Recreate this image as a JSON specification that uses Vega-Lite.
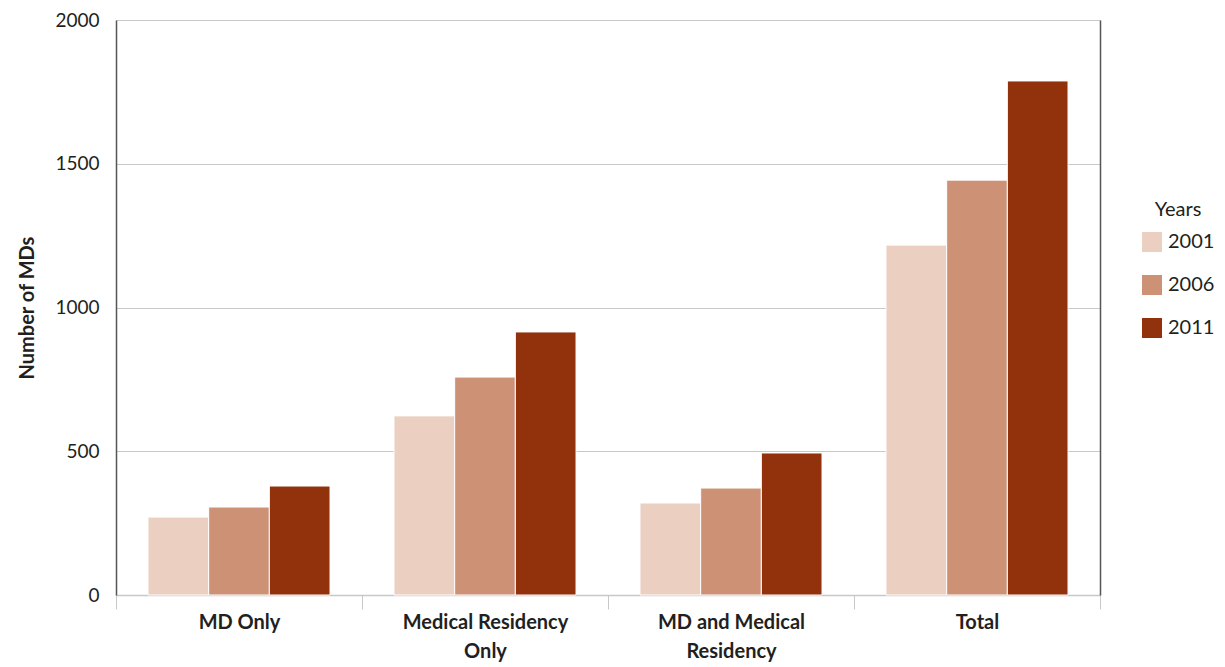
{
  "$schema": "https://vega.github.io/schema/vega-lite/v6.json",
  "width": 984,
  "height": 575,
  "autosize": {"type": "none"},
  "padding": {"left": 116, "top": 20, "right": 125, "bottom": 72},
  "background": "white",
  "config": {
    "view": {"stroke": null},
    "font": "Lato",
    "axis": {"labelFont": "Lato", "titleFont": "Lato", "labelColor": "#231f20", "titleColor": "#231f20"},
    "legend": {"labelFont": "Lato", "titleFont": "Lato"}
  },
  "data": {
    "values": [
      {"category": "MD Only", "year": "2001", "count": 271},
      {"category": "MD Only", "year": "2006", "count": 306},
      {"category": "MD Only", "year": "2011", "count": 379},
      {"category": "Medical Residency Only", "year": "2001", "count": 623},
      {"category": "Medical Residency Only", "year": "2006", "count": 758},
      {"category": "Medical Residency Only", "year": "2011", "count": 915},
      {"category": "MD and Medical Residency", "year": "2001", "count": 320},
      {"category": "MD and Medical Residency", "year": "2006", "count": 372},
      {"category": "MD and Medical Residency", "year": "2011", "count": 494},
      {"category": "Total", "year": "2001", "count": 1217},
      {"category": "Total", "year": "2006", "count": 1443},
      {"category": "Total", "year": "2011", "count": 1788}
    ]
  },
  "encoding": {
    "x": {
      "field": "category",
      "type": "nominal",
      "sort": ["MD Only", "Medical Residency Only", "MD and Medical Residency", "Total"],
      "scale": {"paddingInner": 0, "paddingOuter": 0},
      "axis": {
        "title": null,
        "labelAngle": 0,
        "labelFontSize": 20,
        "labelFontWeight": "bold",
        "labelLineHeight": 29,
        "labelPadding": 3,
        "labelBaseline": "top",
        "tickBand": "extent",
        "tickSize": 14,
        "tickColor": "#c8c8c8",
        "domainColor": "#c8c8c8",
        "domainWidth": 1.5,
        "labelExpr": "datum.value == 'Medical Residency Only' ? ['Medical Residency', 'Only'] : datum.value == 'MD and Medical Residency' ? ['MD and Medical', 'Residency'] : datum.value"
      }
    },
    "y": {
      "field": "count",
      "type": "quantitative",
      "scale": {"domain": [0, 2000], "nice": false}
    },
    "xOffset": {"field": "year", "type": "nominal", "scale": {"paddingInner": 0, "paddingOuter": 0.527}}
  },
  "layer": [
    {
      "mark": {"type": "bar", "stroke": "white", "strokeWidth": 1},
      "encoding": {
        "y": {
          "field": "count",
          "type": "quantitative",
          "scale": {"domain": [0, 2000], "nice": false},
          "axis": {
            "title": "Number of MDs",
            "titleFontSize": 20,
            "titleFontWeight": "bold",
            "titlePadding": 17,
            "values": [0, 500, 1000, 1500, 2000],
            "format": "d",
            "labelFontSize": 19,
            "labelPadding": 17,
            "ticks": false,
            "grid": true,
            "gridColor": "#c8c8c8",
            "gridWidth": 1.2,
            "domainColor": "#555555",
            "domainWidth": 1.5
          }
        },
        "color": {
          "field": "year",
          "type": "nominal",
          "scale": {"domain": ["2001", "2006", "2011"], "range": ["#ebcfc1", "#cd9276", "#91320c"]},
          "legend": {
            "title": "Years",
            "orient": "none",
            "legendX": 1026,
            "legendY": 180,
            "titleFontSize": 20,
            "titleFontWeight": "normal",
            "titleColor": "#231f20",
            "titleAlign": "center",
            "titleAnchor": "middle",
            "titlePadding": 12,
            "labelFontSize": 20,
            "labelColor": "#231f20",
            "labelOffset": 6,
            "symbolType": "square",
            "symbolSize": 400,
            "symbolStrokeWidth": 0,
            "rowPadding": 23
          }
        }
      }
    },
    {
      "mark": {"type": "bar", "opacity": 0},
      "encoding": {
        "y": {
          "field": "count",
          "type": "quantitative",
          "scale": {"domain": [0, 2000], "nice": false},
          "axis": {
            "orient": "right",
            "title": null,
            "labels": false,
            "ticks": false,
            "grid": false,
            "domainColor": "#555555",
            "domainWidth": 1.5
          }
        }
      }
    }
  ],
  "resolve": {"axis": {"y": "independent"}}
}
